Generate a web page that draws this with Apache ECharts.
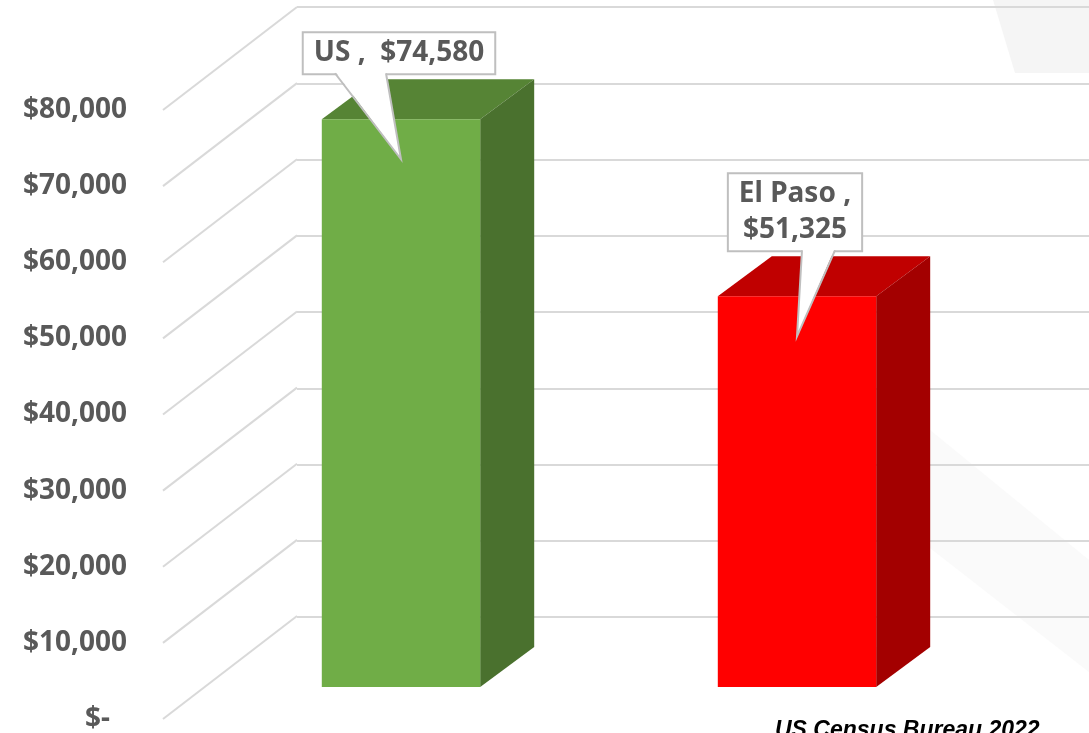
<!DOCTYPE html>
<html>
<head>
<meta charset="utf-8">
<script src="https://cdn.jsdelivr.net/npm/echarts@6/dist/echarts.min.js"></script>
<style>
html, body { margin: 0; padding: 0; background: #fff; }
#chart { width: 1089px; height: 733px; }
</style>
</head>
<body>
<div id="chart"></div>
<script>
// data
const categories = ['US', 'El Paso'];
const incomeValues = [74580, 51325];
const yTicks = [0, 10000, 20000, 30000, 40000, 50000, 60000, 70000, 80000];

// 3d look
const barColors = [
  { front: '#70ad47', top: '#568435', side: '#4a712e' },
  { front: '#ff0000', top: '#c00000', side: '#a30000' }
];
const WALL_DEPTH = [134, -103];
const BAR_OFFSET = [40, -32];
const BAR_DEPTH = [54, -40];
const calloutTail = [[-66, -15], [5, 38]];

const money = (v) => (v === 0 ? '$-' : '$' + v.toLocaleString('en-US'));
const labelFont = 'bold 28px "Noto Sans"';

const chart = echarts.init(document.getElementById('chart'));

const option = {
  animation: false,
  backgroundColor: '#fff',
  graphic: [
    {
      type: 'polygon', z: -1, silent: true,
      shape: { points: [[993, 0], [1015, 73], [1089, 73], [1089, 0]] },
      style: { fill: '#f5f5f5' }
    },
    {
      type: 'polygon', z: -1, silent: true,
      shape: { points: [[930, 430], [1089, 560], [1089, 672], [930, 548]] },
      style: { fill: '#fafafa' }
    },
    {
      type: 'text', left: 775, top: 719,
      style: { text: 'US Census Bureau 2022', font: 'italic bold 23px "Liberation Sans"', fill: '#000' }
    }
  ],
  grid: [
    { left: 163, top: 110, width: 792, height: 610 },
    { left: 297, top: 7, width: 792, height: 610 }
  ],
  xAxis: [
    { type: 'category', gridIndex: 0, data: categories, show: false },
    { type: 'category', gridIndex: 1, data: categories, show: false }
  ],
  yAxis: [
    {
      type: 'value', gridIndex: 0, min: 0, max: 80000, interval: 10000,
      axisLine: { show: false },
      axisTick: { show: false },
      splitLine: { show: false },
      axisLabel: {
        margin: 36,
        color: '#595959',
        fontSize: 28,
        fontWeight: 'bold',
        fontFamily: 'Noto Sans',
        formatter: (v) => (v === 0 ? '{z|$-}' : money(v)),
        rich: {
          z: { color: '#595959', fontSize: 28, fontWeight: 'bold', fontFamily: 'Noto Sans', padding: [0, 17, 0, 0] }
        }
      }
    },
    {
      type: 'value', gridIndex: 1, min: 0, max: 80000, interval: 10000,
      axisLine: { show: false },
      axisTick: { show: false },
      axisLabel: { show: false },
      splitLine: { lineStyle: { color: '#d9d9d9', width: 2 } }
    }
  ],
  series: [
    {
      // side wall gridlines
      type: 'custom',
      xAxisIndex: 0, yAxisIndex: 0,
      silent: true, z: 1,
      data: yTicks.map((v) => [0, v]),
      renderItem: (params, api) => {
        const y = api.coord([0, api.value(1)])[1];
        const x = params.coordSys.x;
        return {
          type: 'line',
          shape: { x1: x, y1: y, x2: x + WALL_DEPTH[0], y2: y + WALL_DEPTH[1] },
          style: { stroke: '#d9d9d9', lineWidth: 2 }
        };
      }
    },
    {
      // 3d columns
      type: 'custom',
      xAxisIndex: 0, yAxisIndex: 0,
      z: 2,
      data: incomeValues.map((v, i) => [i, v]),
      renderItem: (params, api) => {
        const i = api.value(0);
        const top = api.coord([i, api.value(1)]);
        const base = api.coord([i, 0]);
        const w = api.size([1, 0])[0] * 0.4;
        const x0 = top[0] + BAR_OFFSET[0] - w / 2;
        const x1 = x0 + w;
        const yT = top[1] + BAR_OFFSET[1];
        const yB = base[1] + BAR_OFFSET[1];
        const [dx, dy] = BAR_DEPTH;
        const c = barColors[i];
        return {
          type: 'group',
          children: [
            { type: 'polygon', shape: { points: [[x0, yT], [x1, yT], [x1 + dx, yT + dy], [x0 + dx, yT + dy]] }, style: { fill: c.top } },
            { type: 'polygon', shape: { points: [[x1, yT], [x1 + dx, yT + dy], [x1 + dx, yB + dy], [x1, yB]] }, style: { fill: c.side } },
            { type: 'rect', shape: { x: x0, y: yT, width: w, height: yB - yT }, style: { fill: c.front } }
          ]
        };
      }
    },
    {
      // callout labels
      type: 'custom',
      xAxisIndex: 0, yAxisIndex: 0,
      z: 5,
      data: incomeValues.map((v, i) => [i, v]),
      renderItem: (params, api) => {
        const i = api.value(0);
        const v = api.value(1);
        const top = api.coord([i, v]);
        const tx = top[0] + BAR_OFFSET[0];
        const ty = top[1] + BAR_OFFSET[1] + 40;
        const boxBottom = ty - 86;
        const [a, b] = calloutTail[i];
        const cat = categories[i];
        const text = cat.length > 4 ? cat + ' ,\n' + money(v) : cat + ' ,  ' + money(v);
        return {
          type: 'group',
          children: [
            {
              type: 'text', x: tx - 2, y: boxBottom,
              style: {
                text: text, font: labelFont, fill: '#595959',
                align: 'center', verticalAlign: 'bottom',
                backgroundColor: '#fff', borderColor: '#bfbfbf', borderWidth: 2,
                padding: [2, 10], lineHeight: 36
              }
            },
            { type: 'polygon', shape: { points: [[tx + a, boxBottom - 2], [tx + b, boxBottom - 2], [tx, ty]] }, style: { fill: '#fff' } },
            { type: 'polyline', shape: { points: [[tx + a, boxBottom], [tx, ty], [tx + b, boxBottom]] }, style: { stroke: '#bfbfbf', lineWidth: 2, fill: null } }
          ]
        };
      }
    }
  ]
};

chart.setOption(option);
window.addEventListener('resize', () => chart.resize());
</script>
</body>
</html>
